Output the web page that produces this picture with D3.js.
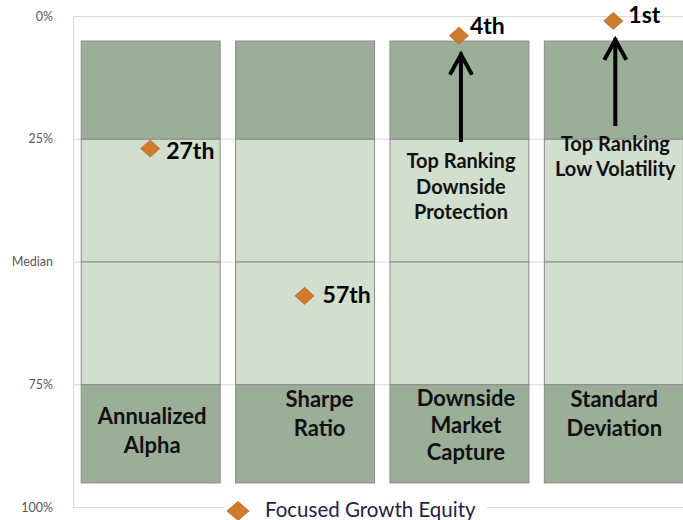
<!DOCTYPE html>
<html>
<head>
<meta charset="utf-8">
<script src="https://cdn.jsdelivr.net/npm/d3@7"></script>
<style>
  body { margin: 0; background: #fff; }
  svg { display: block; font-family: Lato, "Open Sans", sans-serif; }
</style>
</head>
<body>
<div id="chart"></div>
<script>
// data
const categories = ["Annualized Alpha", "Sharpe Ratio", "Downside Market Capture", "Standard Deviation"];
const categoryLines = [["Annualized", "Alpha"], ["Sharpe", "Ratio"], ["Downside", "Market", "Capture"], ["Standard", "Deviation"]];
const rankValues = [27, 57, 4, 1];           // percentile rank of Focused Growth Equity
const rankLabels = ["27th", "57th", "4th", "1st"];
const bandEdges = [5, 25, 50, 75, 95];       // quartile boxes (5th to 95th)
const yTicks = [0, 25, 50, 75, 100];
const yTickLabels = ["0%", "25%", "Median", "75%", "100%"];
const seriesName = "Focused Growth Equity";
const notes = [
  { cat: "Downside Market Capture", lines: ["Top Ranking", "Downside", "Protection"] },
  { cat: "Standard Deviation", lines: ["Top Ranking", "Low Volatility"] }
];

const width = 683, height = 520;

const svg = d3.select("#chart").append("svg")
  .attr("width", width)
  .attr("height", height);

const x = d3.scaleBand()
  .domain(categories)
  .range([73, 690.5])
  .paddingInner(0.1)
  .paddingOuter(0.05);

const y = d3.scaleLinear()
  .domain([0, 100])
  .range([16, 507]);

const dark = "#9bae97", light = "#d2dece";

// gridlines + axis
const yAxis = d3.axisLeft(y)
  .tickValues(yTicks)
  .tickFormat((d, i) => yTickLabels[i])
  .tickSize(-(width - 73))
  .tickPadding(20);

const gAxis = svg.append("g")
  .attr("transform", "translate(73,0)")
  .call(yAxis);
gAxis.select(".domain").attr("stroke", "#d9d9d9").attr("d", `M0.5,${y(0)}V${y(100)}`);
gAxis.selectAll(".tick line").attr("stroke", "#d9d9d9");
gAxis.selectAll(".tick text")
  .attr("fill", "#595959")
  .style("font-family", "Lato, sans-serif")
  .style("font-size", "12.5px");

// quartile boxes
const bands = d3.pairs(bandEdges).map((p, i) => ({ lo: p[0], hi: p[1], fill: (i === 0 || i === 3) ? dark : light }));

categories.forEach(c => {
  svg.append("g").selectAll("rect")
    .data(bands)
    .join("rect")
    .attr("x", x(c) + 0.5)
    .attr("y", d => y(d.lo) + 0.5)
    .attr("width", x.bandwidth())
    .attr("height", d => y(d.hi) - y(d.lo))
    .attr("fill", d => d.fill)
    .attr("stroke", "#8c8c8c")
    .attr("stroke-width", 1);
});

// category labels in the bottom box
const labelOffsets = [{ dx: 2, top: 424, lh: 29 }, { dx: 15, top: 407, lh: 29 }, { dx: 7, top: 406, lh: 27 }, { dx: 1, top: 407, lh: 29 }];
categories.forEach((c, i) => {
  const t = svg.append("text")
    .attr("text-anchor", "middle")
    .attr("font-weight", "bold")
    .attr("font-size", "22px")
    .attr("fill", "#111");
  categoryLines[i].forEach((line, j) => {
    t.append("tspan")
      .attr("x", x(c) + x.bandwidth() / 2 + labelOffsets[i].dx)
      .attr("y", labelOffsets[i].top + j * labelOffsets[i].lh)
      .text(line);
  });
});

// annotations with arrows
const arrowBottoms = [142, 126];
notes.forEach((n, k) => {
  const i = categories.indexOf(n.cat);
  const cx = x(n.cat) + x.bandwidth() / 2;
  const tipY = y(rankValues[i]) + 17;
  const ax = cx + 2;
  svg.append("path")
    .attr("d", `M${ax},${arrowBottoms[k]}V${tipY}`)
    .attr("stroke", "#000").attr("stroke-width", 4).attr("fill", "none");
  svg.append("path")
    .attr("d", `M${ax - 11},${tipY + 22}L${ax},${tipY + 2}L${ax + 11},${tipY + 22}`)
    .attr("stroke", "#000").attr("stroke-width", 4).attr("fill", "none")
    .attr("stroke-linecap", "butt");

  const top = k === 0 ? 168 : 150.5;
  const t = svg.append("text")
    .attr("text-anchor", "middle")
    .attr("font-weight", "bold")
    .attr("font-size", "20px")
    .attr("fill", "#111");
  n.lines.forEach((line, j) => {
    t.append("tspan")
      .attr("x", cx + 2)
      .attr("y", top + j * 25.5)
      .text(line);
  });
});

// diamond markers
const diamond = (cx, cy, w, h) => `M${cx},${cy - h}L${cx + w},${cy}L${cx},${cy + h}L${cx - w},${cy}Z`;

svg.append("g").selectAll("path")
  .data(rankValues)
  .join("path")
  .attr("d", (d, i) => diamond(x(categories[i]) + x.bandwidth() / 2, y(d), 9.5, 8.5))
  .attr("fill", "#d07a2d")
  .attr("stroke", "#b8691f")
  .attr("stroke-width", 0.8);

const rankOffsets = [{ dx: 16, dy: 10 }, { dx: 18, dy: 7 }, { dx: 11, dy: -2 }, { dx: 15, dy: 2 }];
svg.append("g").selectAll("text")
  .data(rankValues)
  .join("text")
  .attr("x", (d, i) => x(categories[i]) + x.bandwidth() / 2 + rankOffsets[i].dx)
  .attr("y", (d, i) => y(d) + rankOffsets[i].dy)
  .attr("font-weight", "bold")
  .attr("font-size", "23px")
  .attr("fill", "#000")
  .text((d, i) => rankLabels[i]);

// legend
const lg = svg.append("g");
lg.append("rect")
  .attr("x", 223).attr("y", 497).attr("width", 264).attr("height", 23)
  .attr("fill", "#fff");
lg.append("path")
  .attr("d", diamond(238, 511, 11, 9.5))
  .attr("fill", "#d07a2d")
  .attr("stroke", "#b8691f")
  .attr("stroke-width", 0.8);
lg.append("text")
  .attr("x", 265)
  .attr("y", 517)
  .attr("font-size", "20.5px")
  .attr("fill", "#22224a")
  .text(seriesName);
</script>
</body>
</html>
